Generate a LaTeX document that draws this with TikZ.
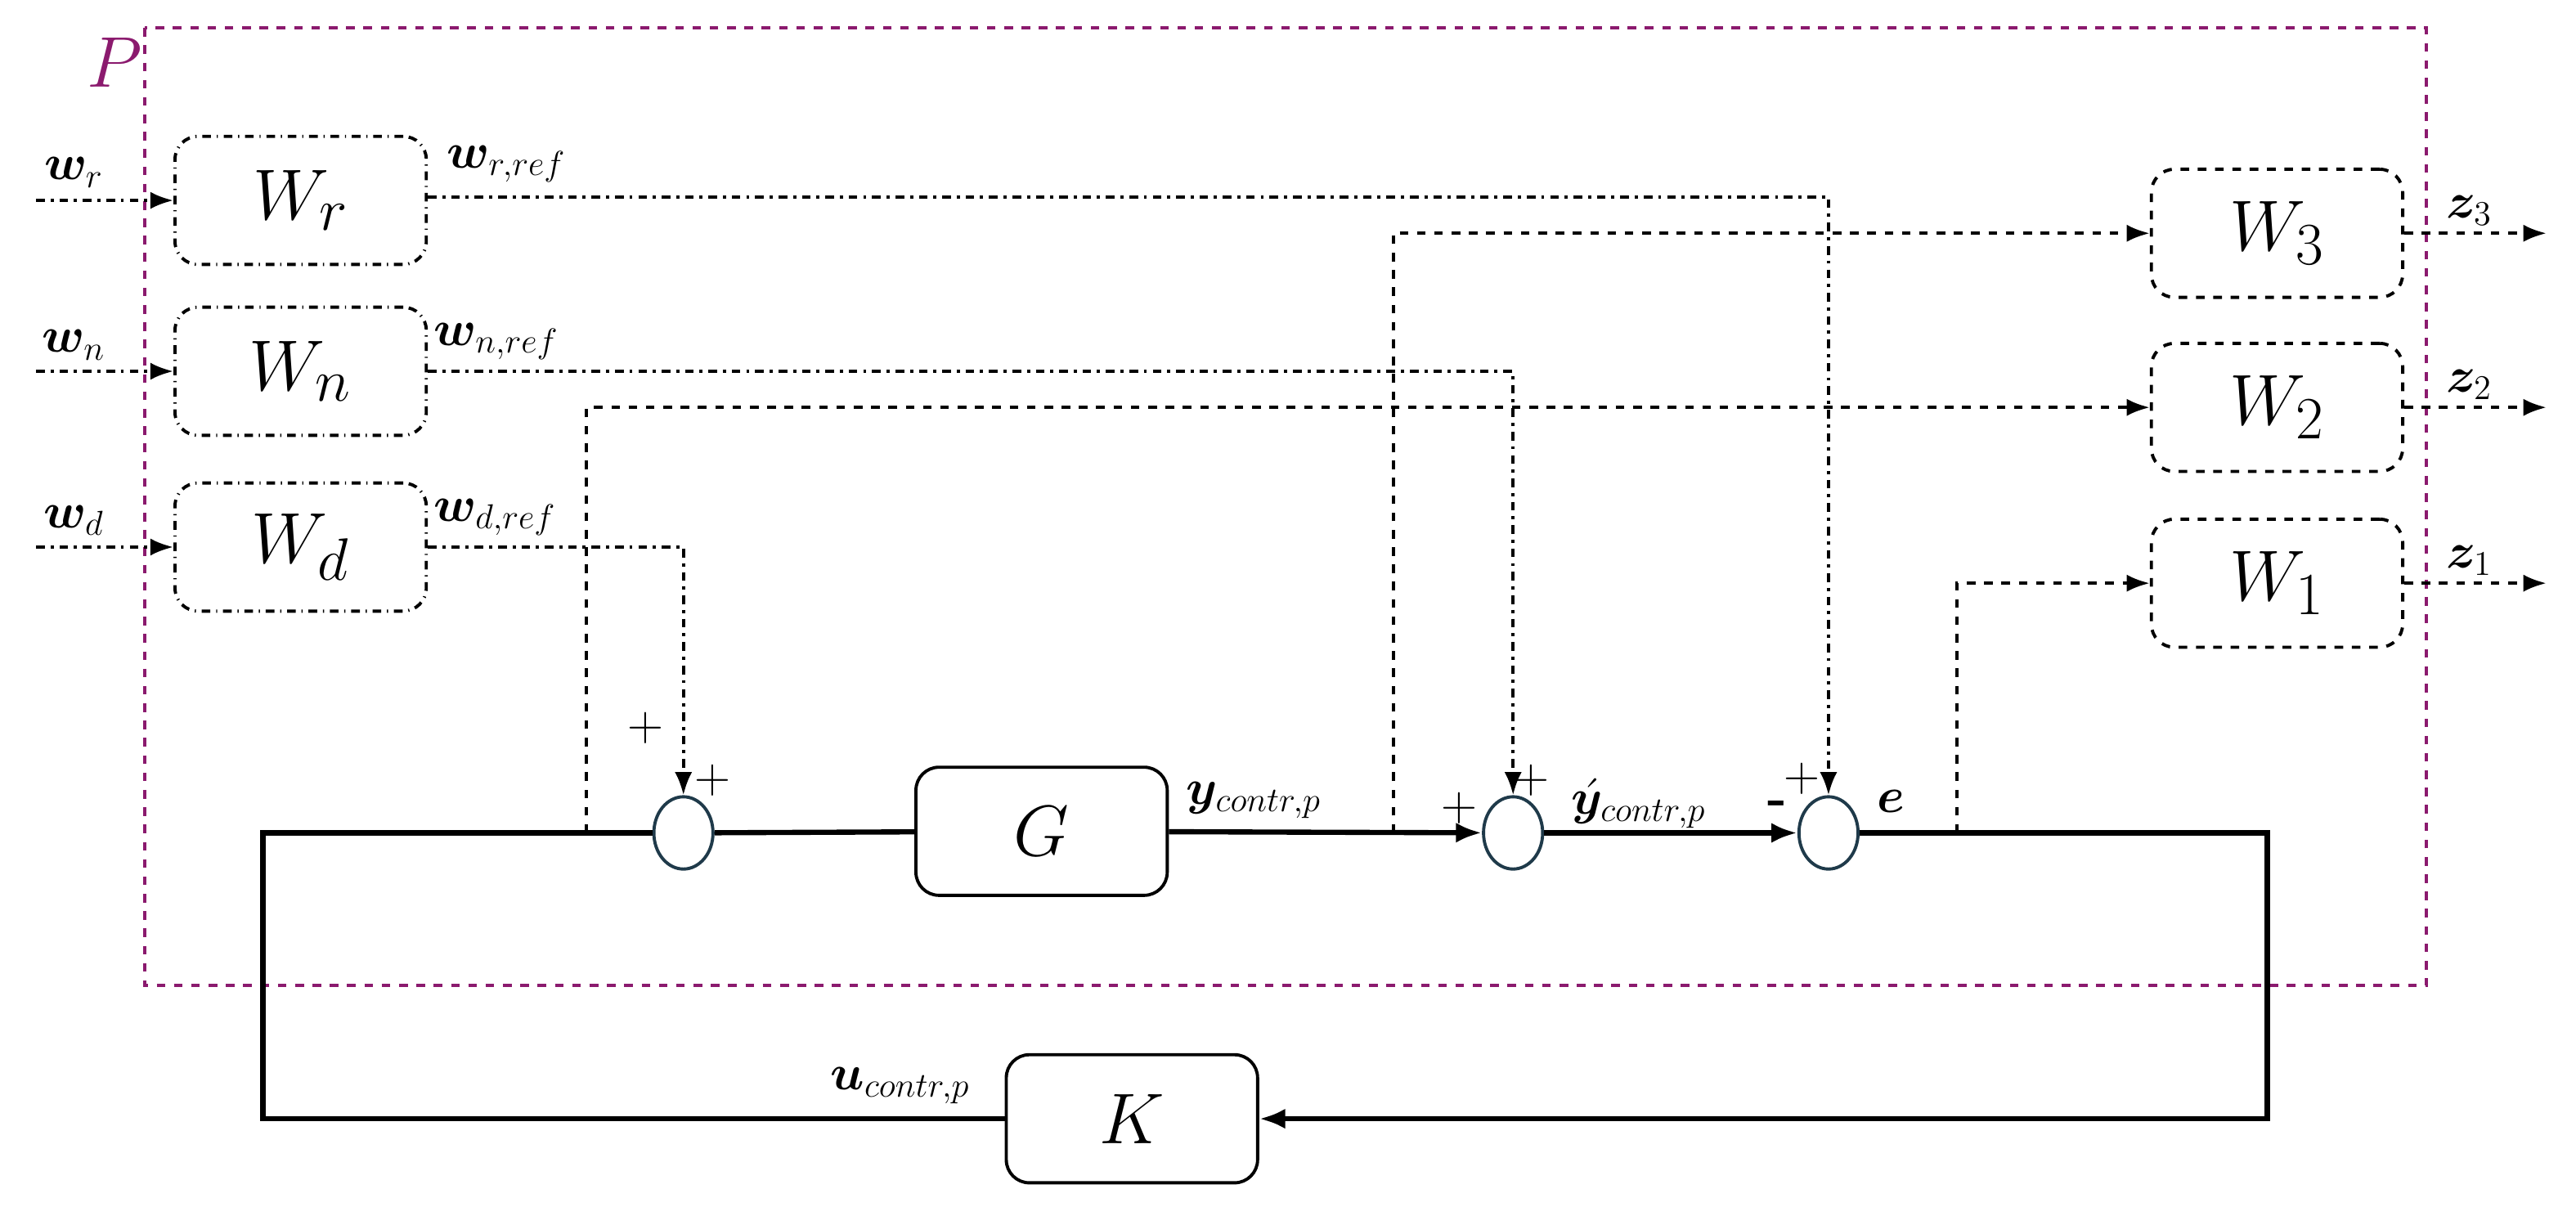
\documentclass[tikz,border=0pt]{standalone}
\usepackage{amsmath,bm}
\usetikzlibrary{arrows.meta,shapes.geometric}
\definecolor{plum}{HTML}{8B1A6E}
\definecolor{sumedge}{HTML}{1F3A4A}
\tikzset{
  blk/.style={draw, rounded corners=8pt, minimum width=3.06cm, minimum height=1.56cm, inner sep=0pt, font=\fontsize{32}{34}\selectfont},
  wblk/.style={blk, dash dot, line width=1.1pt},
  oblk/.style={blk, dashed, line width=1.1pt},
  sblk/.style={blk, line width=1.1pt},
  sum/.style={draw=sumedge, ellipse, minimum width=0.72cm, minimum height=0.88cm, inner sep=0pt, line width=1.1pt},
  sig/.style={line width=1.8pt, -{Latex[length=9pt,width=7pt]}},
  ref/.style={line width=1.1pt, dash dot, -{Latex[length=8pt,width=6pt]}},
  tap/.style={line width=1.1pt, dashed, -{Latex[length=8pt,width=6pt]}},
  lbl/.style={font=\fontsize{18}{20}\selectfont, inner sep=1pt},
}
\begin{document}
\begin{tikzpicture}[x=0.02cm, y=-0.02cm]
\useasboundingbox (0,0) rectangle (1568,740);
% plant frame
\draw[plum, dashed, line width=1.2pt] (88,17) rectangle (1477,600);
\node[plum, font=\fontsize{34}{36}\selectfont] (Plbl) at (70,38) {$P$};

% input weights
\node[wblk] (Wr) at (183,122) {$W_r$};
\node[wblk] (Wn) at (183,226) {$W_n$};
\node[wblk] (Wd) at (183,333) {$W_d$};
\coordinate (inr) at (22,122);
\coordinate (inn) at (22,226);
\coordinate (ind) at (22,333);
\draw[ref] (inr) -- (Wr);
\draw[ref] (inn) -- (Wn);
\draw[ref] (ind) -- (Wd);
\node[lbl] at (45,105) {$\bm{w}_r$};
\node[lbl] at (45,210) {$\bm{w}_n$};
\node[lbl] at (45,317) {$\bm{w}_d$};

% output weights
\node[oblk] (W3) at (1386,142) {$W_3$};
\node[oblk] (W2) at (1386,248) {$W_2$};
\node[oblk] (W1) at (1386,355) {$W_1$};
\coordinate (out3) at (1550,142);
\coordinate (out2) at (1550,248);
\coordinate (out1) at (1550,355);
\draw[tap] (W3) -- (out3);
\draw[tap] (W2) -- (out2);
\draw[tap] (W1) -- (out1);
\node[lbl] at (1503,128) {$\bm{z}_3$};
\node[lbl] at (1503,234) {$\bm{z}_2$};
\node[lbl] at (1503,341) {$\bm{z}_1$};

% loop
\node[sum] (S1) at (416,507) {};
\node[sum] (S2) at (921,507) {};
\node[sum] (S3) at (1113,507) {};
\node[sblk] (G) at (634,506) {$G$};
\node[sblk] (K) at (689,681) {$K$};
\coordinate (bl) at (160,681);
\coordinate (br) at (1380,507);
\coordinate (tapW2) at (357,507);
\coordinate (tapW3) at (848,507);
\coordinate (tapW1) at (1191,507);

\draw[line width=1.8pt] (K.west) -- (bl) |- (S1.west);
\draw[line width=1.8pt] (S1) -- (G);
\draw[sig] (G) -- (S2);
\draw[sig] (S2) -- (S3);
\draw[sig] (S3) -- (br) |- (K.east);

% references
\draw[ref] (Wr.east |- 0,120) -| (S3.north);
\draw[ref] (Wn.east |- 0,226) -| (S2.north);
\draw[ref] (Wd.east |- 0,333) -| (S1.north);
\node[lbl, anchor=west] at (270,100) {$\bm{w}_{r,ref}$};
\node[lbl, anchor=west] at (262,208) {$\bm{w}_{n,ref}$};
\node[lbl, anchor=west] at (262,315) {$\bm{w}_{d,ref}$};

% performance taps
\draw[tap] (tapW2) |- (W2.west);
\draw[tap] (tapW3) |- (W3.west);
\draw[tap] (tapW1) |- (W1.west);

% signs and signals
\node[lbl] at (393,443) {$+$};
\node[lbl] at (434,475) {$+$};
\node[lbl] at (888,492) {$+$};
\node[lbl, inner sep=0pt] at (932,475) {$+$};
\node[lbl] at (1082,492) {\textbf{-}};
\node[lbl] at (1097,474) {$+$};
\node[lbl, anchor=west] at (720,487) {$\bm{y}_{contr,p}$};
\node[lbl, anchor=west, inner sep=0pt] at (956,489) {$\acute{\bm{y}}_{contr,p}$};
\node[lbl] at (1151,488) {$\bm{e}$};
\node[lbl] at (548,661) {$\bm{u}_{contr,p}$};
\end{tikzpicture}
\end{document}
